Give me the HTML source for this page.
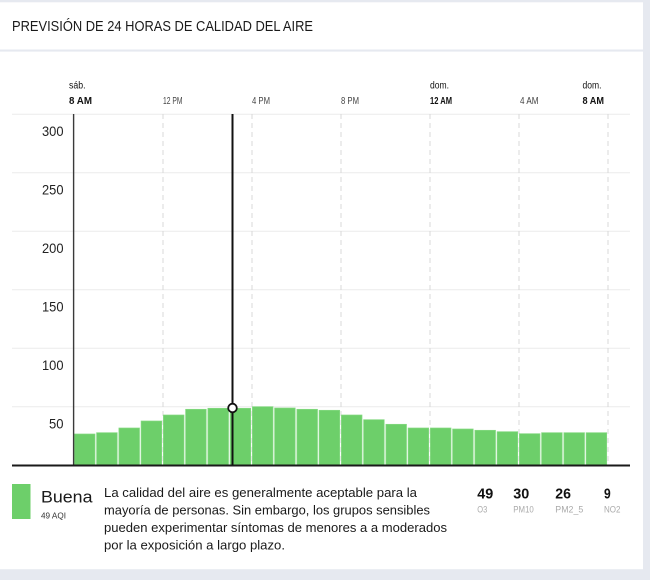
<!DOCTYPE html>
<html><head><meta charset="utf-8"><style>
html,body{margin:0;padding:0;background:#e6e9f0;}
svg{display:block;font-family:"Liberation Sans",sans-serif;}
</style></head><body>
<svg width="650" height="580" viewBox="0 0 650 580" xmlns="http://www.w3.org/2000/svg">
<rect width="650" height="580" fill="#e6e9f0"/>
<rect x="0" y="2.3" width="643" height="47.2" fill="#fff"/>
<rect x="0" y="51.6" width="643" height="517.6" fill="#fff"/>

<text x="12" y="31" font-size="14.5" fill="#1a1a1a" textLength="301" lengthAdjust="spacingAndGlyphs">PREVISIÓN DE 24 HORAS DE CALIDAD DEL AIRE</text>

<!-- top time labels -->
<g font-size="10" fill="#111">
<text x="69" y="88.5" textLength="16.5" lengthAdjust="spacingAndGlyphs">sáb.</text>
<text x="69" y="104" font-weight="bold" textLength="23" lengthAdjust="spacingAndGlyphs">8 AM</text>
<text x="163" y="104" fill="#444" textLength="19.5" lengthAdjust="spacingAndGlyphs">12 PM</text>
<text x="252" y="104" fill="#444" textLength="18" lengthAdjust="spacingAndGlyphs">4 PM</text>
<text x="341" y="104" fill="#444" textLength="18" lengthAdjust="spacingAndGlyphs">8 PM</text>
<text x="430" y="88.5" textLength="19" lengthAdjust="spacingAndGlyphs">dom.</text>
<text x="430" y="104" font-weight="bold" textLength="22" lengthAdjust="spacingAndGlyphs">12 AM</text>
<text x="520" y="104" fill="#444" textLength="18.5" lengthAdjust="spacingAndGlyphs">4 AM</text>
<text x="582.5" y="88.5" textLength="19" lengthAdjust="spacingAndGlyphs">dom.</text>
<text x="582.5" y="104" font-weight="bold" textLength="21.5" lengthAdjust="spacingAndGlyphs">8 AM</text>
</g>

<!-- horizontal gridlines -->
<g stroke="#ebebeb" stroke-width="1">
<line x1="12" y1="114.3" x2="630" y2="114.3"/>
<line x1="12" y1="172.8" x2="630" y2="172.8"/>
<line x1="12" y1="231.3" x2="630" y2="231.3"/>
<line x1="12" y1="289.8" x2="630" y2="289.8"/>
<line x1="12" y1="348.3" x2="630" y2="348.3"/>
<line x1="12" y1="406.8" x2="630" y2="406.8"/>
</g>

<!-- y labels -->
<g font-size="14" fill="#222" text-anchor="end">
<text x="63.5" y="136" textLength="21.5" lengthAdjust="spacingAndGlyphs">300</text>
<text x="63.5" y="194.5" textLength="21.5" lengthAdjust="spacingAndGlyphs">250</text>
<text x="63.5" y="253" textLength="21.5" lengthAdjust="spacingAndGlyphs">200</text>
<text x="63.5" y="311.5" textLength="21.5" lengthAdjust="spacingAndGlyphs">150</text>
<text x="63.5" y="370" textLength="21.5" lengthAdjust="spacingAndGlyphs">100</text>
<text x="63.5" y="428.5" textLength="14.5" lengthAdjust="spacingAndGlyphs">50</text>
</g>

<!-- dashed verticals -->
<g stroke="#d8d8d8" stroke-width="1" stroke-dasharray="5 4">
<line x1="163" y1="114" x2="163" y2="465"/>
<line x1="252" y1="114" x2="252" y2="465"/>
<line x1="341" y1="114" x2="341" y2="465"/>
<line x1="430" y1="114" x2="430" y2="465"/>
<line x1="519" y1="114" x2="519" y2="465"/>
<line x1="608" y1="114" x2="608" y2="465"/>
</g>

<!-- bars -->
<g fill="#6dcf6a" stroke="#86d983" stroke-width="0.7">
<rect x="74.4" y="434" width="20.6" height="31"/>
<rect x="96.6" y="432.7" width="20.6" height="32.3"/>
<rect x="118.9" y="428" width="20.6" height="37"/>
<rect x="141.1" y="421" width="20.6" height="44"/>
<rect x="163.4" y="415" width="20.6" height="50"/>
<rect x="185.6" y="409.3" width="20.6" height="55.7"/>
<rect x="207.9" y="408.3" width="20.6" height="56.7"/>
<rect x="230.1" y="408.3" width="20.6" height="56.7"/>
<rect x="252.4" y="406.7" width="20.6" height="58.3"/>
<rect x="274.6" y="408" width="20.6" height="57"/>
<rect x="296.9" y="409.3" width="20.6" height="55.7"/>
<rect x="319.1" y="410.3" width="20.6" height="54.7"/>
<rect x="341.4" y="415" width="20.6" height="50"/>
<rect x="363.6" y="419.7" width="20.6" height="45.3"/>
<rect x="385.9" y="424.3" width="20.6" height="40.7"/>
<rect x="408.1" y="428" width="20.6" height="37"/>
<rect x="430.4" y="428" width="20.6" height="37"/>
<rect x="452.6" y="429" width="20.6" height="36"/>
<rect x="474.9" y="430.3" width="20.6" height="34.7"/>
<rect x="497.1" y="431.7" width="20.6" height="33.3"/>
<rect x="519.4" y="433.7" width="20.6" height="31.3"/>
<rect x="541.6" y="432.7" width="20.6" height="32.3"/>
<rect x="563.9" y="432.7" width="20.6" height="32.3"/>
<rect x="586.1" y="432.7" width="20.6" height="32.3"/>
</g>

<!-- axis line -->
<line x1="73.6" y1="114" x2="73.6" y2="465" stroke="#3a3a3a" stroke-width="1.4"/>
<!-- baseline -->
<line x1="12" y1="465.5" x2="630" y2="465.5" stroke="#1a1a1a" stroke-width="2"/>
<!-- cursor -->
<line x1="232.5" y1="114" x2="232.5" y2="465" stroke="#111" stroke-width="2"/>
<circle cx="232.5" cy="408" r="4.3" fill="#fff" stroke="#111" stroke-width="1.8"/>

<!-- legend -->
<rect x="12" y="484" width="18.5" height="35" fill="#6dcf6a"/>
<text x="41" y="502.3" font-size="17" fill="#1a1a1a" textLength="51.5" lengthAdjust="spacingAndGlyphs">Buena</text>
<text x="41" y="518.5" font-size="8.5" fill="#333" textLength="25" lengthAdjust="spacingAndGlyphs">49 AQI</text>

<g font-size="12.8" fill="#1a1a1a">
<text x="104" y="497" textLength="313" lengthAdjust="spacingAndGlyphs">La calidad del aire es generalmente aceptable para la</text>
<text x="104" y="514.5" textLength="326" lengthAdjust="spacingAndGlyphs">mayoría de personas. Sin embargo, los grupos sensibles</text>
<text x="104" y="532" textLength="343" lengthAdjust="spacingAndGlyphs">pueden experimentar síntomas de menores a a moderados</text>
<text x="104" y="549.5" textLength="181" lengthAdjust="spacingAndGlyphs">por la exposición a largo plazo.</text>
</g>

<g font-size="15" font-weight="bold" fill="#111">
<text x="477.3" y="498.7" textLength="16" lengthAdjust="spacingAndGlyphs">49</text>
<text x="513.3" y="498.7" textLength="16" lengthAdjust="spacingAndGlyphs">30</text>
<text x="555.3" y="498.7" textLength="15.7" lengthAdjust="spacingAndGlyphs">26</text>
<text x="604" y="498.7" textLength="6.7" lengthAdjust="spacingAndGlyphs">9</text>
</g>
<g font-size="9" fill="#aaa">
<text x="477.3" y="512.5" textLength="10" lengthAdjust="spacingAndGlyphs">O3</text>
<text x="513.3" y="512.5" textLength="20.5" lengthAdjust="spacingAndGlyphs">PM10</text>
<text x="555.3" y="512.5" textLength="28" lengthAdjust="spacingAndGlyphs">PM2_5</text>
<text x="604" y="512.5" textLength="16.5" lengthAdjust="spacingAndGlyphs">NO2</text>
</g>
</svg>
</body></html>
